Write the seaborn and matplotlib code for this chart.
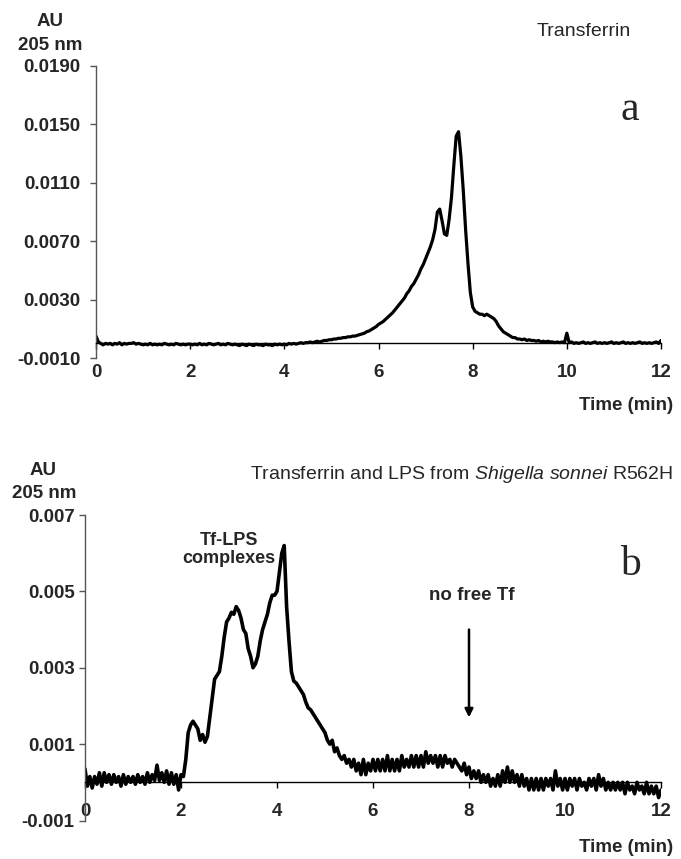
import numpy as np
import pandas as pd
import matplotlib
matplotlib.use("Agg")
import matplotlib.pyplot as plt
import seaborn as sns

# ---------------- data ----------------
# time grid (min), step 0.05 from 0 to 12
time_min = [round(i * 0.05, 2) for i in range(241)]

# Panel a: Transferrin (AU at 205 nm)
au_transferrin = [
    # 0.00 - 0.95
    0.0005, 0.0001, 0.0, -0.0001, 0.0, -0.00005, 0.0, -0.0001, 0.0, -0.00005,
    0.00005, -0.0001, 0.0, -0.00005, 0.0, 0.0, 0.00005, -0.00005, 0.0, -0.00005,
    # 1.00 - 1.95
    -0.0001, -0.00005, -0.0001, 0.0, -0.0001, -0.00005, -0.0001, -0.00005, -0.0001, 0.0,
    -0.00005, -0.0001, -0.00005, -0.0001, 0.0, -0.00005, -0.0001, -0.00005, -0.0001, -0.00005,
    # 2.00 - 2.95
    -0.00005, -0.0001, -0.00005, -0.0001, 0.0, -0.0001, -0.00005, -0.0001, 0.0, -0.00005,
    -0.0001, -0.00005, 0.0, -0.0001, -0.00005, -0.0001, 0.0, -0.00005, -0.0001, -0.00005,
    # 3.00 - 3.95
    -0.0001, -0.00015, -0.00005, -0.0001, -0.00015, -0.00005, -0.0001, -0.00015, -0.00005, -0.0001,
    -0.0001, -0.00015, -0.00005, -0.0001, -0.0001, -0.00015, -0.00005, -0.0001, -0.00005, -0.0001,
    # 4.00 - 4.95
    -0.00005, -0.0001, 0.0, -0.00005, 0.0, -0.00005, 0.0, 0.00005, 0.0, 0.00005,
    0.00005, 0.0001, 0.00005, 0.0001, 0.00015, 0.0001, 0.00015, 0.0002, 0.0002, 0.00025,
    # 5.00 - 5.95
    0.00025, 0.0003, 0.0003, 0.00035, 0.00035, 0.0004, 0.0004, 0.00045, 0.00045, 0.0005,
    0.0005, 0.00055, 0.0006, 0.00065, 0.0007, 0.0008, 0.00085, 0.00095, 0.00105, 0.00115,
    # 6.00 - 6.95
    0.0013, 0.0014, 0.0015, 0.00165, 0.0018, 0.00195, 0.0021, 0.0023, 0.0025, 0.0027,
    0.0029, 0.0031, 0.0034, 0.0036, 0.0039, 0.0041, 0.0044, 0.0047, 0.0051, 0.0054,
    # 7.00 - 7.95
    0.0058, 0.0062, 0.0066, 0.0071, 0.0078, 0.0090, 0.0092, 0.0084, 0.0075, 0.0074,
    0.0085, 0.0100, 0.0122, 0.0142, 0.0145, 0.0128, 0.0105, 0.0078, 0.0055, 0.0035,
    # 8.00 - 8.95
    0.0025, 0.0022, 0.0021, 0.0020, 0.0020, 0.0019, 0.0020, 0.0019, 0.0018, 0.0017,
    0.0015, 0.0012, 0.0010, 0.0008, 0.0007, 0.0006, 0.0005, 0.0004, 0.0004, 0.0003,
    # 9.00 - 9.95
    0.0003, 0.00025, 0.0003, 0.0002, 0.00025, 0.0002, 0.0002, 0.00015, 0.0002, 0.0001,
    0.00015, 0.0001, 0.00015, 0.0001, 0.0001, 0.00005, 0.0001, 0.00005, 0.0001, 0.00005,
    # 10.00 - 10.95
    0.0007, 0.00005, 0.0001, 0.0, 0.00005, 0.0, 0.00005, 0.0001, 0.0, 0.00005,
    0.0, 0.00005, 0.0001, 0.0, 0.00005, 0.0, 0.00005, 0.0, 0.00005, 0.0001,
    # 11.00 - 11.95
    0.0, 0.00005, 0.0, 0.00005, 0.0001, 0.0, 0.00005, 0.0, 0.00005, 0.0,
    0.00005, 0.0001, 0.0, 0.00005, 0.0, 0.00005, 0.0, 0.00005, 0.0001, 0.0,
    # 12.00
    0.0002,
]

# Panel b: Transferrin + LPS (AU at 205 nm)
au_tf_lps = [
    # 0.00 - 0.95
    0.00035, -0.0001, 0.00015, -0.00015, 0.00015, -0.00005, 0.00025, -0.0001, 0.00025, 0.0,
    0.0002, -0.00005, 0.0002, 0.0, 0.00015, -0.0001, 0.0002, -0.00005, 0.00015, 0.0,
    # 1.00 - 1.95
    0.00015, -0.00005, 0.0002, 0.0, 0.00015, -0.00005, 0.00025, 0.0, 0.0002, 0.00005,
    0.00045, 0.00005, 0.00025, 0.0, 0.0003, -0.00005, 0.00025, -0.00005, 0.0002, -0.0002,
    # 2.00 - 2.95
    0.0002, 0.00015, 0.0006, 0.0013, 0.0015, 0.0016, 0.0015, 0.0014, 0.0011, 0.00125,
    0.00105, 0.0012, 0.0017, 0.0022, 0.0027, 0.0028, 0.0029, 0.0033, 0.0038, 0.0042,
    # 3.00 - 3.95
    0.0043, 0.00445, 0.0044, 0.0046, 0.0045, 0.0043, 0.0040, 0.0039, 0.0035, 0.0033,
    0.0030, 0.0031, 0.0033, 0.0037, 0.0040, 0.0042, 0.0044, 0.0047, 0.0049, 0.0049,
    # 4.00 - 4.95
    0.0050, 0.0055, 0.0060, 0.0062, 0.0046, 0.0037, 0.0029, 0.00265, 0.0026, 0.0025,
    0.0024, 0.0023, 0.0021, 0.00195, 0.0019, 0.0018, 0.0017, 0.0016, 0.0015, 0.0014,
    # 5.00 - 5.95
    0.0013, 0.0011, 0.0010, 0.0011, 0.0008, 0.0009, 0.0007, 0.0006, 0.0007, 0.0005,
    0.0006, 0.0004, 0.0006, 0.0003, 0.0005, 0.0002, 0.0006, 0.0002, 0.0005, 0.0003,
    # 6.00 - 6.95
    0.0006, 0.0003, 0.0006, 0.0003, 0.0006, 0.0003, 0.0007, 0.0003, 0.0006, 0.0003,
    0.0006, 0.0003, 0.0007, 0.0004, 0.0006, 0.0004, 0.0007, 0.0004, 0.0007, 0.0004,
    # 7.00 - 7.95
    0.0007, 0.0004, 0.0008, 0.0005, 0.0007, 0.0005, 0.0007, 0.0004, 0.0007, 0.0004,
    0.0007, 0.0005, 0.0006, 0.0004, 0.0006, 0.0005, 0.0004, 0.0003, 0.0005, 0.0002,
    # 8.00 - 8.95
    0.0004, 0.0001, 0.0003, 0.0001, 0.0003, 0.0, 0.0002, 0.0, 0.0002, -0.0001,
    0.0001, -0.0001, 0.0002, -0.0001, 0.0003, 0.0, 0.0004, 0.0, 0.0003, 0.0,
    # 9.00 - 9.95
    0.0002, -0.0001, 0.0002, -0.0001, 0.0001, -0.0002, 0.0001, -0.0002, 0.0001, -0.0002,
    0.0001, -0.0002, 0.0001, -0.0001, 0.0001, -0.0002, 0.0003, -0.0001, 0.0001, -0.0002,
    # 10.00 - 10.95
    0.0001, -0.0002, 0.0001, -0.0001, 0.0001, -0.0002, 0.0001, -0.0001, 0.0, -0.0002,
    0.0001, -0.0001, 0.0001, -0.0002, 0.0002, -0.0001, 0.0001, -0.0002, 0.0, -0.0002,
    # 11.00 - 11.95
    0.0, -0.0002, 0.0, -0.0002, 0.0, -0.0003, 0.0, -0.0002, -0.0001, -0.0003,
    0.0, -0.0002, -0.0001, -0.0003, 0.0, -0.0003, -0.0001, -0.0003, -0.0001, -0.0004,
    # 12.00
    -0.0002,
]

x_ticks = [0, 2, 4, 6, 8, 10, 12]
y_ticks_a = [-0.001, 0.003, 0.007, 0.011, 0.015, 0.019]
y_ticks_b = [-0.001, 0.001, 0.003, 0.005, 0.007]

title_a = "Transferrin"
title_b = r"Transferrin and LPS from $\it{Shigella\ sonnei}$ R562H"
arrow_time = 8.0
arrow_from, arrow_to = 0.0040, 0.0017

# ---------------- style ----------------
sns.set_style("white")
plt.rcParams["font.family"] = ["Liberation Sans", "DejaVu Sans"]
plt.rcParams["mathtext.fontset"] = "custom"
plt.rcParams["mathtext.rm"] = "Liberation Sans"
plt.rcParams["mathtext.it"] = "Liberation Sans:italic"

W, H = 681, 859
fig = plt.figure(figsize=(W / 100, H / 100), dpi=100)


def px_axes(l, t, r, b):
    return fig.add_axes([l / W, 1 - b / H, (r - l) / W, (b - t) / H])


def fx(x):
    return x / W


def fy(y):
    return 1 - y / H


df_a = pd.DataFrame({"t": time_min, "au": au_transferrin})
df_b = pd.DataFrame({"t": time_min, "au": au_tf_lps})

ax_a = px_axes(96, 66, 661, 358)
ax_b = px_axes(85, 515, 661, 820.5)

for ax, df, yt, fmt, ylim, ypad, lw in [
    (ax_a, df_a, y_ticks_a, "{:.4f}", (-0.001, 0.019), 7, 2.3),
    (ax_b, df_b, y_ticks_b, "{:.3f}", (-0.001, 0.007), 3.5, 2.6),
]:
    sns.lineplot(data=df, x="t", y="au", ax=ax, color="black", linewidth=lw,
                 estimator=None, sort=False)
    ax.set_xlim(0, 12)
    ax.set_ylim(*ylim)
    ax.set_xlabel("")
    ax.set_ylabel("")
    ax.spines["top"].set_visible(False)
    ax.spines["right"].set_visible(False)
    ax.spines["left"].set_color("#555555")
    ax.spines["left"].set_linewidth(1.0)
    ax.spines["bottom"].set_position(("data", 0))
    ax.spines["bottom"].set_color("black")
    ax.spines["bottom"].set_linewidth(1.0)
    ax.set_xticks(x_ticks)
    ax.set_xticklabels([str(v) for v in x_ticks], fontweight="bold", fontsize=13.5)
    ax.set_yticks(yt)
    ax.set_yticklabels([fmt.format(v) for v in yt], fontweight="bold", fontsize=13.5)
    ax.tick_params(axis="x", direction="out", length=4, width=1, pad=11,
                   bottom=True, color="black")
    ax.tick_params(axis="y", direction="out", length=4, width=1, pad=ypad,
                   left=True, color="#555555")
    ax.grid(False)
    ax.patch.set_alpha(0)

# ---------------- texts panel a ----------------
fig.text(fx(50), fy(22), "AU", ha="center", va="center", fontsize=13.5, fontweight="bold")
fig.text(fx(50), fy(45), "205 nm", ha="center", va="center", fontsize=13.5, fontweight="bold")
fig.text(fx(584), fy(32), title_a, ha="center", va="center", fontsize=14)
fig.text(fx(630), fy(110), "a", ha="center", va="center", fontsize=30,
         family=["Liberation Serif", "DejaVu Serif"])
fig.text(fx(673), fy(406), "Time (min)", ha="right", va="center", fontsize=13.5,
         fontweight="bold")

# ---------------- texts panel b ----------------
fig.text(fx(43), fy(470), "AU", ha="center", va="center", fontsize=13.5, fontweight="bold")
fig.text(fx(44), fy(493), "205 nm", ha="center", va="center", fontsize=13.5, fontweight="bold")
fig.text(fx(673), fy(475), title_b, ha="right", va="center", fontsize=14)
fig.text(fx(630), fy(565), "b", ha="center", va="center", fontsize=30,
         family=["Liberation Serif", "DejaVu Serif"])
fig.text(fx(673), fy(847), "Time (min)", ha="right", va="center", fontsize=13.5,
         fontweight="bold")

ax_b.text(3.0, 0.0061, "Tf-LPS\ncomplexes", ha="center", va="center", fontsize=13,
          fontweight="bold", linespacing=1.1)
ax_b.text(8.05, 0.0049, "no free Tf", ha="center", va="center", fontsize=13.5,
          fontweight="bold")
ax_b.annotate("", xy=(arrow_time, arrow_to), xytext=(arrow_time, arrow_from),
              arrowprops=dict(arrowstyle="-|>", color="black", lw=1.8,
                              mutation_scale=12, shrinkA=0, shrinkB=0))

fig.savefig("out.png", dpi=100)
